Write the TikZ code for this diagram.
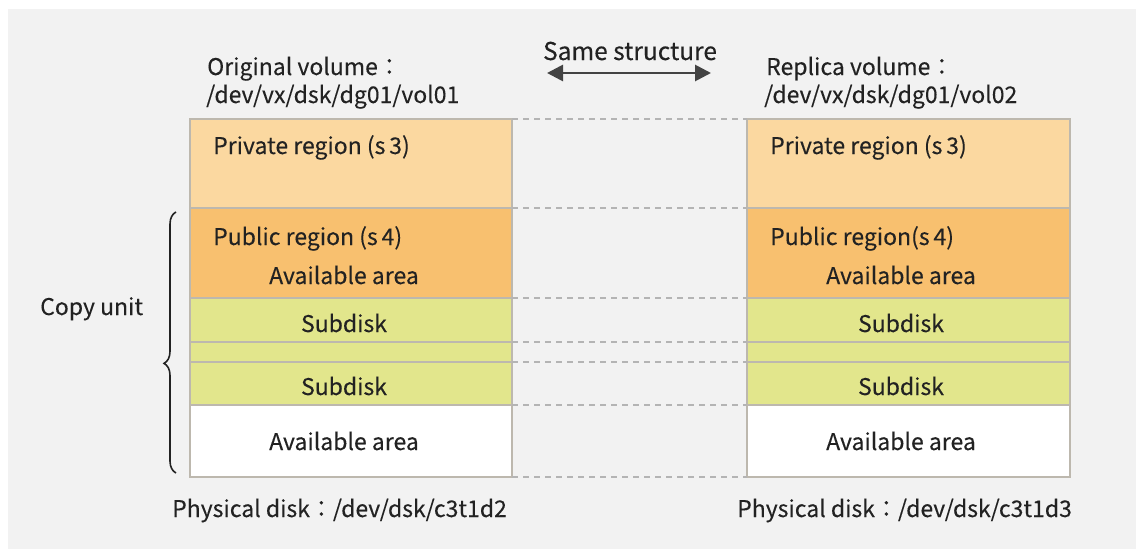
\documentclass[tikz,border=0pt]{standalone}
\usepackage{fontspec}
\setmainfont{Noto Sans CJK JP}[FakeBold=0.15]
\usetikzlibrary{arrows.meta,decorations.pathreplacing}
\definecolor{bgc}{HTML}{F2F2F2}
\definecolor{privc}{HTML}{FBD8A0}
\definecolor{pubc}{HTML}{F8C06F}
\definecolor{subc}{HTML}{E2E68C}
\definecolor{edgec}{HTML}{BDB8AE}
\definecolor{dashc}{HTML}{B4B4B4}
\definecolor{txtc}{HTML}{222222}
\begin{document}
\begin{tikzpicture}[x=1pt,y=-1pt,
  slab/.style={draw=edgec,line width=1.1pt,anchor=north west,inner sep=0pt,outer sep=0pt},
  lbl/.style={anchor=base west,inner sep=0pt,text=txtc,font=\fontsize{23}{27}\selectfont},
  clbl/.style={anchor=base,inner sep=0pt,text=txtc,font=\fontsize{23}{27}\selectfont},
  link/.style={draw=dashc,line width=1.6pt,dash pattern=on 6pt off 5pt}]
\useasboundingbox (0,0) rectangle (1139,554);
\fill[white] (0,0) rectangle (1139,554);
\fill[bgc] (8,9) rectangle (1136,549);
% left column
\node[slab,fill=privc,minimum width=322pt,minimum height=89pt] (lpriv) at (190,119) {};
\node[slab,fill=pubc,minimum width=322pt,minimum height=90pt] (lpub) at (190,208) {};
\node[slab,fill=subc,minimum width=322pt,minimum height=44pt] (lsub1) at (190,298) {};
\node[slab,fill=subc,minimum width=322pt,minimum height=20pt] (lstrip) at (190,342) {};
\node[slab,fill=subc,minimum width=322pt,minimum height=43pt] (lsub2) at (190,362) {};
\node[slab,fill=white,minimum width=322pt,minimum height=72pt] (lav) at (190,405) {};
% right column
\node[slab,fill=privc,minimum width=323pt,minimum height=89pt] (rpriv) at (747,119) {};
\node[slab,fill=pubc,minimum width=323pt,minimum height=90pt] (rpub) at (747,208) {};
\node[slab,fill=subc,minimum width=323pt,minimum height=44pt] (rsub1) at (747,298) {};
\node[slab,fill=subc,minimum width=323pt,minimum height=20pt] (rstrip) at (747,342) {};
\node[slab,fill=subc,minimum width=323pt,minimum height=43pt] (rsub2) at (747,362) {};
\node[slab,fill=white,minimum width=323pt,minimum height=72pt] (rav) at (747,405) {};
% dashed links
\draw[link] (lpriv.north east) -- (rpriv.north west);
\draw[link] (lpub.north east) -- (rpub.north west);
\draw[link] (lsub1.north east) -- (rsub1.north west);
\draw[link] (lstrip.north east) -- (rstrip.north west);
\draw[link] (lsub2.north east) -- (rsub2.north west);
\draw[link] (lav.north east) -- (rav.north west);
\draw[link] (lav.south east) -- (rav.south west);
% headers
\node[lbl] (lh1) at (207,75) {Original volume：};
\node[lbl] (lh2) at (206,103) {/dev/vx/dsk/dg01/vol01};
\node[lbl] (rh1) at (766,75) {Replica volume：};
\node[lbl] (rh2) at (764,103) {/dev/vx/dsk/dg01/vol02};
\node[clbl,font=\fontsize{24.5}{28}\selectfont] (same) at (630,60) {Same structure};
\coordinate (aL) at (547,73);
\coordinate (aR) at (711,73);
\draw[{Triangle[width=16pt,length=16pt]}-{Triangle[width=16pt,length=16pt]},line width=2.8pt,draw=txtc!85] (aL) -- (aR);
% left labels
\node[lbl] at (213,154) {Private region (s\,3)};
\node[lbl] at (213,245) {Public region (s\,4)};
\node[clbl] at (344,284) {Available area};
\node[clbl] at (344,332) {Subdisk};
\node[clbl] at (344,395) {Subdisk};
\node[clbl] at (344,450) {Available area};
% right labels
\node[lbl] at (770,154) {Private region (s\,3)};
\node[lbl] at (770,245) {Public region(s\,4)};
\node[clbl] at (901,284) {Available area};
\node[clbl] at (901,332) {Subdisk};
\node[clbl] at (901,395) {Subdisk};
\node[clbl] at (901,450) {Available area};
% copy unit
\coordinate (bT) at (176,212);
\coordinate (bB) at (176,473);
\draw[line width=1.6pt,draw=txtc,decorate,decoration={brace,amplitude=12pt,aspect=0.42}] (bB) -- (bT);
\node[lbl] (cu) at (40,315) {Copy unit};
% physical disks
\node[lbl] (pd1) at (172,517) {Physical disk：/dev/dsk/c3t1d2};
\node[lbl] (pd2) at (737,517) {Physical disk：/dev/dsk/c3t1d3};
\end{tikzpicture}
\end{document}
